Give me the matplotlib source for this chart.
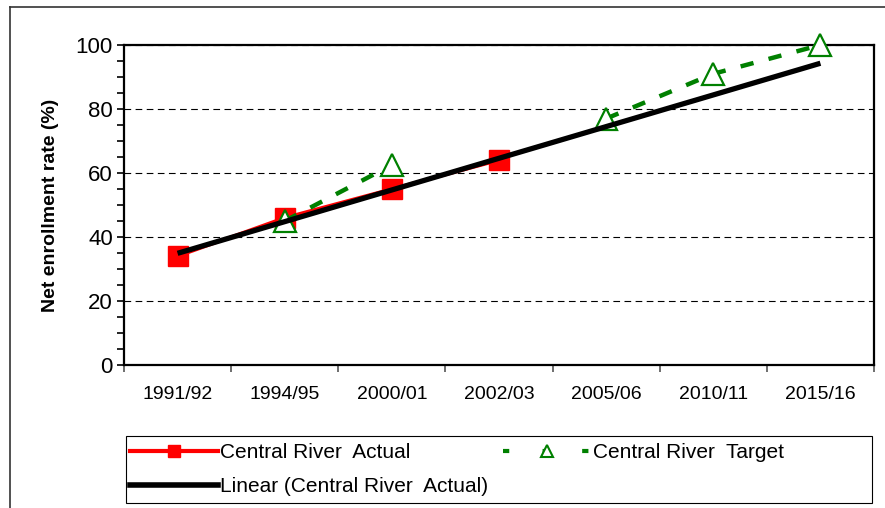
import numpy as np
import matplotlib
matplotlib.use("Agg")
import matplotlib.pyplot as plt
from matplotlib.lines import Line2D
from matplotlib.patches import Rectangle

plt.rcParams['font.family'] = ['Liberation Sans', 'DejaVu Sans']

#==Dados==#
years = ['1991/92', '1994/95', '2000/01', '2002/03', '2005/06', '2010/11', '2015/16']
actual = [34, 46, 55, 64, np.nan, np.nan, np.nan]
target = [np.nan, 45, 62.5, np.nan, 77, 91, 100]

x = np.arange(len(years))
act = np.array(actual)
ok = ~np.isnan(act)
slope, inter = np.polyfit(x[ok], act[ok], 1)
trend = inter + slope * x

#==Figura==#
fig = plt.figure(figsize=(8.85, 5.08), dpi=100)
ax = fig.add_axes([124/885, 1-365/508, (874-124)/885, (365-45)/508])

ax.plot(x, actual, color='red', lw=2.5, marker='s', ms=15, mec='red', zorder=3)
ax.plot(x, target, color='green', lw=3.2, ls=(0, (3, 3.5)), marker='^', ms=16,
        mfc='white', mec='green', mew=1.6, zorder=4, clip_on=False)
ax.plot(x, trend, color='black', lw=3.8, solid_capstyle='butt', zorder=5)

ax.set_xlim(-0.5, len(years) - 0.5)
ax.set_ylim(0, 100)
ax.set_yticks(range(0, 101, 20))
ax.set_yticks(range(0, 101, 5), minor=True)
ax.yaxis.grid(True, which='major', color='black', ls=(0, (6, 4)), lw=0.8)
ax.set_axisbelow(True)

ax.set_xticks(np.arange(-0.5, len(years), 1))
ax.set_xticklabels([])
ax.set_xticks(x, minor=True)
ax.set_xticklabels(years, minor=True)
ax.tick_params(axis='x', which='minor', length=0, pad=15, labelsize=14)
ax.tick_params(axis='x', which='major', length=5, width=1.2, color='#555555')
ax.tick_params(axis='y', which='both', length=5, width=1.2, labelsize=16, pad=3)

for s in ax.spines.values():
    s.set_linewidth(1.6)

ax.set_ylabel('Net enrollment rate (%)', fontsize=14, fontweight='bold', labelpad=12)

#==Legenda==#
h1 = Line2D([], [], color='red', lw=3, marker='s', ms=9)
h2 = Line2D([], [], color='black', lw=4)
h3 = Line2D([], [], color='green', lw=3, ls=(0, (1.5, 8)), marker='^', ms=8,
            mfc='white', mec='green', mew=1.5)
leg = fig.legend([h1, h2, h3],
                 ['Central River  Actual', 'Linear (Central River  Actual)', 'Central River  Target'],
                 loc='upper left', bbox_to_anchor=(130/885, 1-443/508),
                 ncol=2, fontsize=15, handlelength=4.2, handletextpad=0.1,
                 labelspacing=0.72, borderpad=0, columnspacing=0.75, frameon=False,
                 borderaxespad=0)
fig.add_artist(Rectangle((126/885, 1-503/508), (872-126)/885, (503-436)/508,
                         transform=fig.transFigure, fill=False, ec='black', lw=0.8))

#==Moldura externa==#
fig.add_artist(Line2D([10/885, 10/885], [0, 1-7/508], transform=fig.transFigure, color='#333333', lw=1.2))
fig.add_artist(Line2D([10/885, 1], [1-7/508, 1-7/508], transform=fig.transFigure, color='#333333', lw=1.2))

fig.savefig('out.png', dpi=100)
